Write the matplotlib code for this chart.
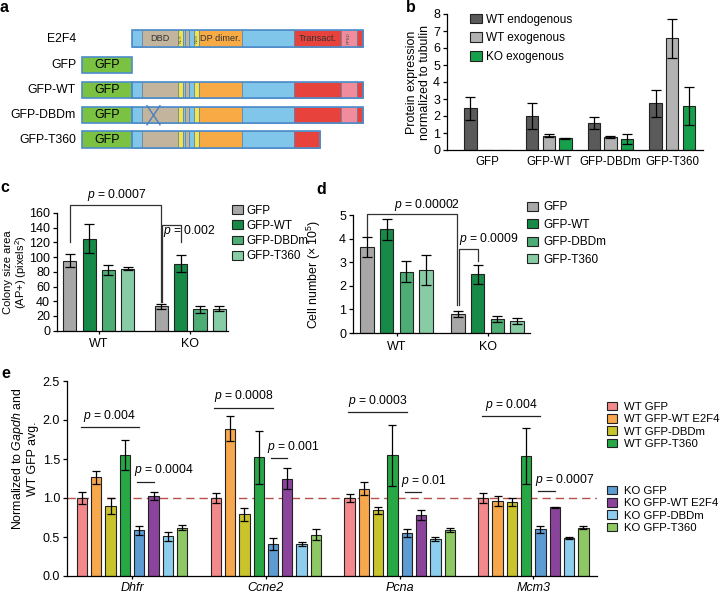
import matplotlib
matplotlib.use("Agg")
import matplotlib.pyplot as plt
import numpy as np
from matplotlib.patches import Rectangle, Patch

plt.rcParams['font.family'] = ['Liberation Sans', 'DejaVu Sans']
plt.rcParams['mathtext.fontset'] = 'custom'
plt.rcParams['mathtext.rm'] = 'Liberation Sans'
plt.rcParams['mathtext.it'] = 'Liberation Sans:italic'
plt.rcParams['mathtext.bf'] = 'Liberation Sans:bold'
plt.rcParams['font.size'] = 8.8
plt.rcParams['axes.linewidth'] = 0.9
plt.rcParams['xtick.major.width'] = 0.9
plt.rcParams['ytick.major.width'] = 0.9
plt.rcParams['xtick.major.size'] = 3
plt.rcParams['ytick.major.size'] = 3
plt.rcParams['xtick.labelsize'] = 9
plt.rcParams['ytick.labelsize'] = 9

# ---------------- data ----------------
# panel a: domain map (diagram units)
domain_labels = ["", "DBD", "NLS", "", "", "", "NES", "DP dimer.", "", "Transact.", "PPBD", ""]
domain_ends = [10, 46, 50.5, 53, 57, 62, 67, 110, 162, 209, 225, 231]
domain_colors = ["#80c6ea", "#c3b59d", "#f0e448", "#80c6ea", "#c3b59d", "#80c6ea", "#f0e448",
                 "#f8aa45", "#80c6ea", "#e8423d", "#f08c9b", "#e8423d"]
constructs = ["E2F4", "GFP", "GFP-WT", "GFP-DBDm", "GFP-T360"]
construct_end = [231, 0, 231, 231, 188]
construct_gfp = [False, True, True, True, True]
construct_dbd_mut = [False, False, False, True, False]

# panel b
b_groups = ['GFP', 'GFP-WT', 'GFP-DBDm', 'GFP-T360']
b_series = ['WT endogenous', 'WT exogenous', 'KO exogenous']
b_wt_endo = [2.45, 2.0, 1.57, 2.75]
b_wt_endo_err = [0.68, 0.78, 0.35, 0.78]
b_wt_exo = [0, 0.84, 0.76, 6.57]
b_wt_exo_err = [0, 0.08, 0.04, 1.13]
b_ko_exo = [0, 0.69, 0.67, 2.58]
b_ko_exo_err = [0, 0.02, 0.30, 1.10]

# panel c / d
cd_groups = ['WT', 'KO']
cd_series = ['GFP', 'GFP-WT', 'GFP-DBDm', 'GFP-T360']
c_wt = [95, 125, 82, 84]
c_wt_err = [9, 20, 7, 2]
c_ko = [33, 91, 29, 30]
c_ko_err = [3, 11.5, 4.5, 3]
d_wt = [3.63, 4.39, 2.60, 2.67]
d_wt_err = [0.43, 0.45, 0.46, 0.64]
d_ko = [0.81, 2.48, 0.58, 0.51]
d_ko_err = [0.13, 0.39, 0.12, 0.13]

# panel e
e_genes = ['Dhfr', 'Ccne2', 'Pcna', 'Mcm3']
e_series = ['WT GFP', 'WT GFP-WT E2F4', 'WT GFP-DBDm', 'WT GFP-T360',
            'KO GFP', 'KO GFP-WT E2F4', 'KO GFP-DBDm', 'KO GFP-T360']
e_wt_gfp = [1.0, 1.0, 1.0, 1.0]
e_wt_gfp_err = [0.08, 0.06, 0.05, 0.07]
e_wt_wt = [1.265, 1.89, 1.12, 0.96]
e_wt_wt_err = [0.08, 0.16, 0.08, 0.065]
e_wt_dbdm = [0.90, 0.79, 0.84, 0.95]
e_wt_dbdm_err = [0.10, 0.08, 0.05, 0.05]
e_wt_t360 = [1.55, 1.52, 1.55, 1.54]
e_wt_t360_err = [0.19, 0.34, 0.39, 0.36]
e_ko_gfp = [0.585, 0.41, 0.55, 0.60]
e_ko_gfp_err = [0.06, 0.08, 0.05, 0.045]
e_ko_wt = [1.03, 1.25, 0.78, 0.88]
e_ko_wt_err = [0.05, 0.13, 0.065, 0.01]
e_ko_dbdm = [0.51, 0.41, 0.48, 0.49]
e_ko_dbdm_err = [0.06, 0.03, 0.025, 0.01]
e_ko_t360 = [0.62, 0.53, 0.59, 0.62]
e_ko_t360_err = [0.035, 0.07, 0.02, 0.02]
e_p_top = ['0.004', '0.0008', '0.0003', '0.004']
e_p_top_y = [1.91, 2.16, 2.10, 2.05]
e_p_ko = ['0.0004', '0.001', '0.01', '0.0007']
e_p_ko_y = [1.21, 1.51, 1.08, 1.09]

# ---------------- figure ----------------
W, H = 721, 593
fig = plt.figure(figsize=(W / 100, H / 100), dpi=100)


def ax_px(left, top, right, bottom):
    return fig.add_axes([left / W, 1 - bottom / H, (right - left) / W, (bottom - top) / H])


def style(ax):
    ax.spines['top'].set_visible(False)
    ax.spines['right'].set_visible(False)
    ax.tick_params(direction='out', pad=2)


def panel_letter(x, y, s):
    fig.text(x / W, 1 - y / H, s, fontsize=11.5, fontweight='bold', va='center', ha='left')


EDGE = '#222222'
ERRKW = dict(ecolor='black', elinewidth=0.9, capthick=0.9)
PFS = 8.7

# ---------------- panel a ----------------
axa = ax_px(0, 0, 370, 165)
axa.set_xlim(0, 370)
axa.set_ylim(165, 0)
axa.axis('off')
row_y = [38.5, 65, 90, 115, 139.7]
row_h = 16.6
x0 = 132
gfp_w = 50
outline = '#4d8ccb'
for name, yc, end, gfp, mut in zip(constructs, row_y, construct_end, construct_gfp, construct_dbd_mut):
    axa.text(76, yc, name, ha='right', va='center', fontsize=8.8)
    top = yc - row_h / 2
    if gfp:
        axa.add_patch(Rectangle((x0 - gfp_w, top), gfp_w, row_h, facecolor='#7cc242',
                                edgecolor=outline, lw=1.2, zorder=3))
        axa.text(x0 - gfp_w / 2, yc, 'GFP', ha='center', va='center', fontsize=9, zorder=4)
    start = 0
    for lab, e, col in zip(domain_labels, domain_ends, domain_colors):
        if start >= end:
            break
        stop = min(e, end)
        axa.add_patch(Rectangle((x0 + start, top), stop - start, row_h, facecolor=col,
                                edgecolor='#5b7fa6', lw=0.5, zorder=2))
        if name == 'E2F4' and lab:
            if lab in ('NLS', 'NES', 'PPBD'):
                axa.text(x0 + (start + stop) / 2, yc, lab, rotation=90, ha='center', va='center',
                         fontsize=3.2, color='#555555', zorder=4)
            else:
                axa.text(x0 + (start + stop) / 2, yc, lab, ha='center', va='center',
                         fontsize=6.6, color='#333333', zorder=4)
        start = e
    if end > 0:
        axa.add_patch(Rectangle((x0, top), end, row_h, facecolor='none',
                                edgecolor=outline, lw=1.2, zorder=3))
    if mut:
        dx0, dx1 = x0 + 15, x0 + 28
        axa.plot([dx0, dx1], [top - 1, top + row_h + 1.5], color='#4a7fc0', lw=1.0, zorder=5)
        axa.plot([dx1, dx0], [top - 1, top + row_h + 1.5], color='#4a7fc0', lw=1.0, zorder=5)
panel_letter(0, 8, 'a')

# ---------------- panel b ----------------
axb = ax_px(447, 14, 703, 150)
style(axb)
xb = np.arange(len(b_groups))
b_vals = [b_wt_endo, b_wt_exo, b_ko_exo]
b_errs = [b_wt_endo_err, b_wt_exo_err, b_ko_exo_err]
b_cols = ['#5a5a5a', '#b2b2b2', '#17a04c']
b_off = [-0.27, 0.0, 0.27]
for vals, errs, col, off, lab in zip(b_vals, b_errs, b_cols, b_off, b_series):
    v = np.array(vals, float)
    e = np.array(errs, float)
    axb.bar(xb + off, v, width=0.2, color=col, edgecolor=EDGE, lw=0.8, label=lab, zorder=2)
    m = v > 0
    axb.errorbar((xb + off)[m], v[m], yerr=e[m], fmt='none', capsize=3.5, zorder=3, **ERRKW)
axb.set_xlim(-0.65, 3.5)
axb.set_ylim(0, 8)
axb.set_yticks(range(0, 9))
axb.set_xticks(xb)
axb.set_xticklabels(b_groups, fontsize=8.3)
axb.tick_params(axis='x', length=0, pad=4)
axb.set_ylabel('Protein expression\nnormalized to tubulin', fontsize=8.9, linespacing=1.1)
axb.yaxis.set_label_coords(-0.062, 0.5)
axb.legend(loc='upper left', bbox_to_anchor=((470 - 447) / 256, 1.0 + 0.5 / 136), frameon=False,
           fontsize=8.5, handlelength=1.05, handleheight=0.9, handletextpad=0.3,
           labelspacing=0.58, borderpad=0, borderaxespad=0)
panel_letter(406, 8, 'b')

# ---------------- panels c and d ----------------
cd_cols = ['#a7a7a7', '#168a46', '#4dad75', '#88cca6']


def cd_panel(ax, wt, wt_err, ko, ko_err, ko_off):
    style(ax)
    pos_wt = np.arange(4)
    pos_ko = np.arange(4) + ko_off
    for i, col in enumerate(cd_cols):
        ax.bar([pos_wt[i], pos_ko[i]], [wt[i], ko[i]], width=0.68, color=col, edgecolor=EDGE,
               lw=0.8, zorder=2, label=cd_series[i])
        ax.errorbar([pos_wt[i], pos_ko[i]], [wt[i], ko[i]], yerr=[wt_err[i], ko_err[i]],
                    fmt='none', capsize=3.8, zorder=3, **ERRKW)
    ax.set_xticks([1.5, 1.5 + ko_off])
    ax.set_xticklabels(cd_groups)
    ax.tick_params(axis='x', length=2.5, pad=3)
    return pos_wt, pos_ko


def bracket(ax, x1, y1, x2, y2, ytop):
    ax.plot([x1, x1, x2, x2], [y1, ytop, ytop, y2], color='#333333', lw=0.9, clip_on=False, zorder=4)


# c
axc = ax_px(57, 213, 228, 330.6)
cd_panel(axc, c_wt, c_wt_err, c_ko, c_ko_err, 4.75)
axc.set_xlim(-0.67, 8.2)
axc.set_ylim(0, 160)
axc.set_yticks(range(0, 161, 20))
axc.set_ylabel('Colony size area\n(AP+) (pixels$^2$)', fontsize=8.0, linespacing=1.0)
axc.yaxis.set_label_coords(-0.165, 0.5)
bracket(axc, 0, 121, 4.70, 39.5, 171)
axc.text(2.4, 174, '$p$ = 0.0007', ha='center', va='bottom', fontsize=PFS, clip_on=False)
bracket(axc, 4.80, 39.5, 5.75, 121, 144)
axc.text(6.2, 125, '$p$ = 0.002', ha='center', va='bottom', fontsize=PFS, clip_on=False)
fig.legend(handles=[Patch(facecolor=c, edgecolor=EDGE, lw=0.8) for c in cd_cols], labels=cd_series,
           loc='upper left', bbox_to_anchor=(232 / W, 1 - 204.5 / H), frameon=False, fontsize=8.4,
           handlelength=0.9, handleheight=0.8, handletextpad=0.3, labelspacing=0.28,
           borderpad=0, borderaxespad=0)
panel_letter(0, 187, 'c')

# d
axd = ax_px(353, 215, 530, 333)
cd_panel(axd, d_wt, d_wt_err, d_ko, d_ko_err, 4.62)
axd.set_xlim(-0.71, 8.27)
axd.set_ylim(0, 5)
axd.set_yticks(range(0, 6))
axd.set_ylabel('Cell number (× 10$^5$)', fontsize=8.9)
axd.yaxis.set_label_coords(-0.17, 0.5)
bracket(axd, 0, 4.12, 4.57, 1.19, 5.05)
axd.text(3.03, 5.1, '$p$ = 0.00002', ha='center', va='bottom', fontsize=PFS, clip_on=False)
bracket(axd, 4.67, 1.19, 5.62, 3.07, 3.54)
axd.text(6.19, 3.66, '$p$ = 0.0009', ha='center', va='bottom', fontsize=PFS, clip_on=False)
fig.legend(handles=[Patch(facecolor=c, edgecolor=EDGE, lw=0.8) for c in cd_cols], labels=cd_series,
           loc='upper left', bbox_to_anchor=(527 / W, 1 - 201.5 / H), frameon=False, fontsize=8.5,
           handlelength=0.9, handleheight=0.8, handletextpad=0.5, labelspacing=0.46,
           borderpad=0, borderaxespad=0)
panel_letter(316, 190, 'd')

# ---------------- panel e ----------------
axe = ax_px(67, 381, 597, 576)
style(axe)
e_vals = [e_wt_gfp, e_wt_wt, e_wt_dbdm, e_wt_t360, e_ko_gfp, e_ko_wt, e_ko_dbdm, e_ko_t360]
e_errs = [e_wt_gfp_err, e_wt_wt_err, e_wt_dbdm_err, e_wt_t360_err,
          e_ko_gfp_err, e_ko_wt_err, e_ko_dbdm_err, e_ko_t360_err]
e_cols = ['#f4898c', '#f7a74c', '#c9c42c', '#27a845', '#5d9bd3', '#8b449c', '#8dcdee', '#8ec864']
gsp = 9.35
centers = np.arange(len(e_genes)) * gsp
handles = []
for i, (vals, errs, col) in enumerate(zip(e_vals, e_errs, e_cols)):
    xs = centers + (i - 3.5)
    axe.bar(xs, vals, width=0.72, color=col, edgecolor=EDGE, lw=0.8, zorder=2)
    axe.errorbar(xs, vals, yerr=errs, fmt='none', capsize=2.6, zorder=3, **ERRKW)
    handles.append(Patch(facecolor=col, edgecolor=EDGE, lw=0.8))
axe.axhline(1.0, color='#b5504c', lw=1.0, dashes=(6, 3.5), zorder=1)
axe.set_xlim(-4.55, 32.5)
axe.set_ylim(0, 2.5)
axe.set_yticks(np.arange(0, 2.51, 0.5))
axe.set_yticklabels(['%.1f' % t for t in np.arange(0, 2.51, 0.5)])
axe.set_xticks(centers)
axe.set_xticklabels(e_genes, fontstyle='italic')
axe.tick_params(axis='x', length=2.5, pad=1.5)
axe.set_ylabel('Normalized to $\\mathit{Gapdh}$ and\nWT GFP avg.', fontsize=8.9, linespacing=1.15)
axe.yaxis.set_label_coords(-0.053, 0.6)
for g, c in enumerate(centers):
    x_a, x_b = c - 3.5 - 0.1, c + 0.5
    axe.plot([x_a, x_b], [e_p_top_y[g]] * 2, color='#222222', lw=0.9, zorder=4)
    axe.text((x_a + x_b) / 2, e_p_top_y[g] + 0.045, '$p$ = ' + e_p_top[g], ha='center', va='bottom',
             fontsize=PFS)
    axe.plot([c + 0.5 - 0.15, c + 1.5], [e_p_ko_y[g]] * 2, color='#222222', lw=0.9, zorder=4)
    axe.text(c + 0.5 - 0.4, e_p_ko_y[g] + 0.04, '$p$ = ' + e_p_ko[g], ha='left', va='bottom',
             fontsize=PFS)
leg_kw = dict(loc='upper left', frameon=False, fontsize=8.2, handlelength=0.9, handleheight=0.8,
              handletextpad=0.55, labelspacing=0.18, borderpad=0, borderaxespad=0)
fig.legend(handles=handles[:4], labels=e_series[:4], bbox_to_anchor=(607 / W, 1 - 401.5 / H), **leg_kw)
fig.legend(handles=handles[4:], labels=e_series[4:], bbox_to_anchor=(607 / W, 1 - 485.5 / H), **leg_kw)
panel_letter(1, 373, 'e')

fig.savefig('out.png', dpi=100)
